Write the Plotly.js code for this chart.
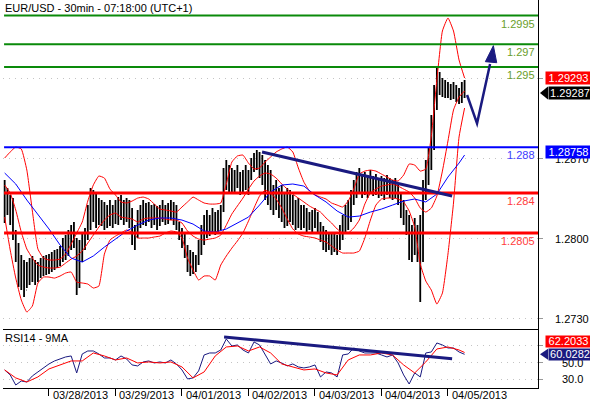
<!DOCTYPE html>
<html><head><meta charset="utf-8">
<script src="https://cdn.plot.ly/plotly-3.0.1.min.js"></script>
<style>html,body{margin:0;padding:0;background:#fff}#chart{width:590px;height:400px}</style>
</head><body><div id="chart"></div>
<script>
// hourly bar index (hours of trading time since 03/28/2013 00:00)
const barHours = []; for (let h = -16; h <= 150; h++) barHours.push(h);

const openP = [1.28163,1.28382,1.28268,1.28181,1.28032,1.27857,1.27639,1.27726,1.27551,1.27744,1.27639,1.27796,1.27656,1.27770,1.27726,1.27796,
1.27744,1.27831,1.27770,1.27849,1.27796,1.27884,1.27945,1.27901,1.28006,1.28058,1.27988,1.27595,1.27918,1.27988,1.28032,1.28251,
1.28382,1.28207,1.28338,1.28207,1.28294,1.28146,1.28251,1.28163,1.28233,1.28198,1.28294,1.28233,1.28294,1.28207,1.28163,1.28006,
1.28076,1.28207,1.28163,1.28268,1.28181,1.28251,1.28163,1.28233,1.28146,1.28233,1.28286,1.28181,1.28251,1.28216,1.28181,1.28119,
1.28032,1.27971,1.27884,1.27770,1.27831,1.27744,1.27814,1.27918,1.28058,1.28119,1.28181,1.28093,1.28207,1.28119,1.28207,1.28251,
1.28530,1.28469,1.28583,1.28469,1.28530,1.28495,1.28443,1.28530,1.28469,1.28556,1.28644,1.28688,1.28618,1.28705,1.28530,1.28408,
1.28513,1.28338,1.28382,1.28294,1.28355,1.28233,1.28294,1.28163,1.28321,1.28207,1.28268,1.28146,1.28233,1.28163,1.28207,1.28119,
1.28181,1.28146,1.28093,1.28032,1.27945,1.28006,1.27936,1.27988,1.27918,1.27971,1.28058,1.28163,1.28251,1.28207,1.28382,1.28443,
1.28530,1.28469,1.28513,1.28425,1.28495,1.28443,1.28513,1.28425,1.28469,1.28425,1.28478,1.28443,1.28408,1.28469,1.28408,1.28338,
1.28233,1.28163,1.28093,1.27901,1.28032,1.27945,1.27901,1.28076,1.28382,1.28600,1.28688,1.28993,1.29256,1.29387,1.29317,1.29343,
1.29282,1.29317,1.29256,1.29299,1.29238,1.29212,1.29299];
const highP = [1.28513,1.28443,1.28382,1.28355,1.28076,1.27962,1.27857,1.27814,1.27796,1.27831,1.27849,1.27814,1.27796,1.27831,1.27849,1.27857,
1.27866,1.27884,1.27901,1.27910,1.27936,1.28006,1.28032,1.28076,1.28119,1.28146,1.28006,1.27988,1.28058,1.28093,1.28294,1.28443,
1.28425,1.28408,1.28355,1.28338,1.28321,1.28294,1.28338,1.28294,1.28338,1.28364,1.28382,1.28338,1.28355,1.28338,1.28268,1.28119,
1.28251,1.28294,1.28338,1.28312,1.28321,1.28294,1.28303,1.28286,1.28294,1.28338,1.28294,1.28312,1.28338,1.28321,1.28294,1.28146,
1.28093,1.28058,1.27945,1.27901,1.27884,1.27857,1.27988,1.28119,1.28207,1.28251,1.28207,1.28268,1.28233,1.28251,1.28294,1.28618,
1.28688,1.28644,1.28618,1.28600,1.28644,1.28583,1.28600,1.28644,1.28600,1.28705,1.28749,1.28775,1.28758,1.28731,1.28688,1.28644,
1.28600,1.28469,1.28513,1.28443,1.28469,1.28408,1.28443,1.28425,1.28382,1.28338,1.28355,1.28294,1.28294,1.28268,1.28233,1.28251,
1.28268,1.28233,1.28146,1.28111,1.28076,1.28058,1.28041,1.28058,1.28032,1.28119,1.28207,1.28294,1.28338,1.28425,1.28513,1.28583,
1.28618,1.28556,1.28583,1.28556,1.28600,1.28548,1.28565,1.28530,1.28548,1.28530,1.28556,1.28530,1.28513,1.28530,1.28469,1.28408,
1.28338,1.28251,1.28207,1.28119,1.28181,1.28119,1.28207,1.28513,1.28688,1.28792,1.29081,1.29343,1.29492,1.29457,1.29404,1.29387,
1.29369,1.29352,1.29369,1.29343,1.29317,1.29369,1.29387];
const lowP = [1.28137,1.28207,1.28119,1.27988,1.27796,1.27578,1.27551,1.27490,1.27569,1.27595,1.27621,1.27595,1.27621,1.27656,1.27674,1.27682,
1.27691,1.27709,1.27726,1.27744,1.27761,1.27796,1.27814,1.27849,1.27901,1.27918,1.27508,1.27569,1.27796,1.27901,1.27988,1.28076,
1.28146,1.28093,1.28119,1.28111,1.28076,1.28093,1.28111,1.28093,1.28128,1.28119,1.28163,1.28119,1.28146,1.28093,1.27945,1.27901,
1.28006,1.28093,1.28119,1.28111,1.28146,1.28093,1.28119,1.28076,1.28111,1.28146,1.28119,1.28128,1.28163,1.28119,1.28076,1.27988,
1.27918,1.27831,1.27709,1.27674,1.27691,1.27709,1.27770,1.27857,1.27945,1.28006,1.28023,1.28058,1.28032,1.28058,1.28076,1.28233,
1.28425,1.28408,1.28399,1.28408,1.28443,1.28382,1.28408,1.28425,1.28382,1.28513,1.28583,1.28600,1.28530,1.28469,1.28338,1.28294,
1.28251,1.28207,1.28251,1.28181,1.28146,1.28093,1.28111,1.28146,1.28119,1.28076,1.28093,1.28076,1.28093,1.28058,1.28076,1.28058,
1.28093,1.28058,1.27971,1.27901,1.27884,1.27901,1.27857,1.27884,1.27857,1.27901,1.27988,1.28058,1.28076,1.28146,1.28294,1.28355,
1.28408,1.28355,1.28382,1.28355,1.28390,1.28373,1.28382,1.28355,1.28373,1.28338,1.28382,1.28355,1.28338,1.28355,1.28294,1.28181,
1.28119,1.28032,1.27814,1.27796,1.27857,1.27796,1.27447,1.27796,1.28338,1.28469,1.28600,1.28775,1.29125,1.29256,1.29238,1.29229,
1.29229,1.29212,1.29221,1.29195,1.29177,1.29186,1.29229];
const closeP = [1.28382,1.28268,1.28181,1.28032,1.27857,1.27639,1.27726,1.27551,1.27744,1.27639,1.27796,1.27656,1.27770,1.27726,1.27796,1.27744,
1.27831,1.27770,1.27849,1.27796,1.27884,1.27945,1.27901,1.28006,1.28058,1.27988,1.27595,1.27918,1.27988,1.28032,1.28251,1.28382,
1.28207,1.28338,1.28207,1.28294,1.28146,1.28251,1.28163,1.28233,1.28198,1.28294,1.28233,1.28294,1.28207,1.28163,1.28006,1.28076,
1.28207,1.28163,1.28268,1.28181,1.28251,1.28163,1.28233,1.28146,1.28233,1.28286,1.28181,1.28251,1.28216,1.28181,1.28119,1.28032,
1.27971,1.27884,1.27770,1.27831,1.27744,1.27814,1.27918,1.28058,1.28119,1.28181,1.28093,1.28207,1.28119,1.28207,1.28251,1.28530,
1.28469,1.28583,1.28469,1.28530,1.28495,1.28443,1.28530,1.28469,1.28556,1.28644,1.28688,1.28618,1.28705,1.28530,1.28408,1.28513,
1.28338,1.28382,1.28294,1.28355,1.28233,1.28294,1.28163,1.28321,1.28207,1.28268,1.28146,1.28233,1.28163,1.28207,1.28119,1.28181,
1.28146,1.28093,1.28032,1.27945,1.28006,1.27936,1.27988,1.27918,1.27971,1.28058,1.28163,1.28251,1.28207,1.28382,1.28443,1.28530,
1.28469,1.28513,1.28425,1.28495,1.28443,1.28513,1.28425,1.28469,1.28425,1.28478,1.28443,1.28408,1.28469,1.28408,1.28338,1.28233,
1.28163,1.28093,1.27901,1.28032,1.27945,1.27901,1.28076,1.28382,1.28600,1.28688,1.28993,1.29256,1.29387,1.29317,1.29343,1.29282,
1.29317,1.29256,1.29299,1.29238,1.29212,1.29299,1.29287];

// slow moving average (blue), every 4 hours
const maHours = []; for (let h = -16; h <= 148; h += 4) maHours.push(h); maHours.push(150);
const maBlue = [1.28574,1.28478,1.28338,1.28216,1.28085,1.27945,1.27831,1.27796,1.27849,1.27927,1.27997,1.28067,1.28119,1.28163,
1.28181,1.28181,1.28163,1.28128,1.28067,1.28058,1.28085,1.28137,1.28189,1.28294,1.28408,1.28469,1.28478,1.28460,1.28382,1.28321,
1.28242,1.28189,1.28198,1.28233,1.28259,1.28294,1.28329,1.28347,1.28321,1.28390,1.28539,1.28661,1.28731];

// Bollinger bands (red), every 2 hours
const bandHours = []; for (let h = -16; h <= 150; h += 2) bandHours.push(h);
const bbUpper = [1.28705,1.28758,1.28801,1.28784,1.28600,1.28242,1.27910,1.27831,1.27814,1.27814,1.27822,1.27866,1.27953,1.28050,
1.28146,1.28329,1.28469,1.28548,1.28530,1.28434,1.28382,1.28321,1.28312,1.28329,1.28355,1.28364,1.28347,1.28303,1.28259,1.28251,
1.28242,1.28233,1.28277,1.28321,1.28364,1.28338,1.28312,1.28303,1.28303,1.28312,1.28478,1.28670,1.28723,1.28731,1.28661,1.28609,
1.28618,1.28670,1.28714,1.28758,1.28784,1.28801,1.28758,1.28618,1.28495,1.28417,1.28382,1.28364,1.28347,1.28312,1.28294,1.28277,
1.28329,1.28434,1.28565,1.28591,1.28600,1.28591,1.28565,1.28539,1.28513,1.28504,1.28556,1.28653,1.28644,1.28591,1.28609,1.28897,
1.29387,1.29815,1.29929,1.29815,1.29562,1.29404];
const bbMiddle = [1.28469,1.28399,1.28251,1.28058,1.27910,1.27831,1.27770,1.27752,1.27744,1.27744,1.27752,1.27787,1.27822,1.27849,
1.27892,1.27962,1.28032,1.28102,1.28163,1.28207,1.28224,1.28189,1.28181,1.28172,1.28146,1.28172,1.28181,1.28181,1.28181,1.28172,
1.28163,1.28163,1.28137,1.28067,1.28023,1.27997,1.27988,1.27997,1.28006,1.28032,1.28119,1.28216,1.28286,1.28355,1.28434,1.28504,
1.28548,1.28574,1.28565,1.28530,1.28478,1.28434,1.28390,1.28355,1.28321,1.28286,1.28259,1.28233,1.28181,1.28137,1.28085,1.28050,
1.28050,1.28093,1.28163,1.28303,1.28399,1.28434,1.28460,1.28469,1.28478,1.28460,1.28434,1.28408,1.28355,1.28268,1.28233,1.28268,
1.28373,1.28591,1.28854,1.29125,1.29238,1.29291];
const bbLower = [1.28189,1.27901,1.27656,1.27464,1.27359,1.27412,1.27613,1.27665,1.27665,1.27656,1.27674,1.27700,1.27709,1.27621,
1.27613,1.27604,1.27569,1.27586,1.27866,1.27988,1.28023,1.28050,1.28076,1.28058,1.28006,1.28006,1.28006,1.28015,1.28023,1.28050,
1.28067,1.28058,1.28006,1.27831,1.27726,1.27639,1.27674,1.27674,1.27639,1.27770,1.27849,1.27918,1.27980,1.28050,1.28154,1.28268,
1.28373,1.28425,1.28399,1.28347,1.28268,1.28172,1.28085,1.28041,1.28023,1.28015,1.28006,1.27988,1.27971,1.27936,1.27901,1.27875,
1.27875,1.27875,1.27892,1.28006,1.28163,1.28294,1.28347,1.28355,1.28355,1.28347,1.28321,1.28242,1.28102,1.27779,1.27630,1.27551,
1.27429,1.27525,1.27866,1.28312,1.28889,1.29142];

// RSI(14), every 2 hours, and its 9MA every 4 hours
const rsiHours = bandHours;
const rsi14 = [41.2,35.2,23.1,27.9,26.7,34.0,38.8,43.6,48.4,52.0,54.4,56.8,58.0,37.6,60.4,64.0,64.0,60.4,55.6,55.6,53.2,58.0,54.4,47.2,
46.0,50.8,52.0,49.6,50.8,49.6,53.2,48.4,41.2,30.4,31.6,40.0,59.2,61.6,61.6,65.2,78.4,70.0,71.2,65.2,61.6,74.8,71.2,59.2,48.4,52.0,
49.6,46.0,48.4,44.8,43.6,44.8,47.2,32.8,38.8,37.6,32.8,59.2,60.4,67.6,64.0,61.6,61.6,61.6,59.2,56.8,59.2,49.6,35.2,24.3,37.6,32.8,
61.6,62.8,73.6,71.2,67.6,67.6,62.8,60.0];
const rsiMaHours = maHours;
const rsiMa9 = [41.2,31.6,26.7,32.8,42.4,47.2,52.0,52.0,61.6,58.0,53.2,55.6,49.6,50.8,49.6,50.8,44.8,31.6,38.8,58.0,68.8,70.0,64.0,
68.8,61.6,48.4,44.8,41.2,42.4,37.6,35.2,53.2,59.2,59.2,61.6,59.2,47.2,37.6,50.8,66.4,68.8,65.2,62.2];

// horizontal levels
const levels = [1.2995, 1.297, 1.295, 1.288, 1.284, 1.2805];
const levelText = ['1.2995', '1.297', '1.295', '1.288', '1.284', '1.2805'];
const levelColors = ['#0a8a0a', '#0a8a0a', '#0a8a0a', '#0000ff', '#ff0000', '#ff0000'];
const levelTextColors = ['#6a9e2a', '#6a9e2a', '#6a9e2a', '#3c3cff', '#ff3c3c', '#ff3c3c'];
const levelWidths = [2, 2, 2, 2, 3, 3];

// drawn lines
const trendHours = [76.9, 145.5], trendPrices = [1.28758, 1.28373];
const rsiTrendHours = [63.2, 145.5], rsiTrendVals = [80.8, 54.6];
const forecastHours = [150.9, 154.5, 159.2], forecastPrices = [1.29256, 1.29008, 1.29527];
const arrowHeadHours = [157.5, 160.4, 161.6], arrowHeadPrices = [1.29547, 1.29687, 1.29538];

// axes
const priceTicks = [1.2730, 1.2800, 1.2870, 1.2940];
const priceTickText = ['1.2730', '1.2800', '1.2870', ''];
const rsiTicks = [30, 50, 70];
const rsiTickText = ['30.0', '50.0', ''];
const dayTicks = [0, 24, 48, 72, 96, 120, 144];
const dayLabels = ['03/28/2013', '03/29/2013', '04/01/2013', '04/02/2013', '04/03/2013', '04/04/2013', '04/05/2013'];

const lastAsk = 1.29293, lastBid = 1.29287, markerLevel = 1.28758;
const lastRsiMa = 62.2033, lastRsi = 60.0282;

const NAVY = '#1a1a80';
const FONT = 'Arial, "Liberation Sans", sans-serif';
const bandLine = {color: '#ff0000', width: 1, shape: 'spline', smoothing: 0.4};

const traces = [
  {type: 'ohlc', x: barHours, open: openP, high: highP, low: lowP, close: closeP, xaxis: 'x', yaxis: 'y',
   increasing: {line: {color: '#000', width: 1.8}}, decreasing: {line: {color: '#000', width: 1.8}},
   tickwidth: 0.14, hoverinfo: 'skip'},
  {type: 'scatter', mode: 'lines', x: bandHours, y: bbUpper, line: bandLine, xaxis: 'x', yaxis: 'y', hoverinfo: 'skip'},
  {type: 'scatter', mode: 'lines', x: bandHours, y: bbMiddle, line: bandLine, xaxis: 'x', yaxis: 'y', hoverinfo: 'skip'},
  {type: 'scatter', mode: 'lines', x: bandHours, y: bbLower, line: bandLine, xaxis: 'x', yaxis: 'y', hoverinfo: 'skip'},
  {type: 'scatter', mode: 'lines', x: maHours, y: maBlue, line: {color: '#0000ff', width: 1}, xaxis: 'x', yaxis: 'y', hoverinfo: 'skip'},
  {type: 'scatter', mode: 'lines', x: rsiHours, y: rsi14, line: {color: NAVY, width: 1}, xaxis: 'x2', yaxis: 'y2', hoverinfo: 'skip'},
  {type: 'scatter', mode: 'lines', x: rsiMaHours, y: rsiMa9, line: {color: '#ff0000', width: 1}, xaxis: 'x2', yaxis: 'y2', hoverinfo: 'skip'}
];

const shapes = [];
levels.forEach((v, i) => shapes.push({type: 'line', xref: 'x domain', yref: 'y', x0: 0.002, x1: 1, y0: v, y1: v,
  line: {color: levelColors[i], width: levelWidths[i]}, layer: 'above'}));
shapes.push({type: 'line', xref: 'x', yref: 'y', x0: trendHours[0], x1: trendHours[1], y0: trendPrices[0], y1: trendPrices[1],
  line: {color: NAVY, width: 3}, layer: 'above'});
shapes.push({type: 'line', xref: 'x2', yref: 'y2', x0: rsiTrendHours[0], x1: rsiTrendHours[1], y0: rsiTrendVals[0], y1: rsiTrendVals[1],
  line: {color: NAVY, width: 3}, layer: 'above'});
shapes.push({type: 'path', xref: 'x', yref: 'y', layer: 'above', line: {color: NAVY, width: 2.5},
  path: 'M' + forecastHours.map((h, i) => h + ',' + forecastPrices[i]).join('L')});
shapes.push({type: 'path', xref: 'x', yref: 'y', layer: 'above', line: {color: NAVY, width: 1}, fillcolor: NAVY,
  path: 'M' + arrowHeadHours.map((h, i) => h + ',' + arrowHeadPrices[i]).join('L') + 'Z'});
shapes.push({type: 'path', xref: 'paper', yref: 'y', xsizemode: 'pixel', ysizemode: 'pixel', xanchor: 1, yanchor: lastBid,
  path: 'M2,-1.5L10,5L10,-8Z', fillcolor: '#000', line: {width: 0}, layer: 'above'});
shapes.push({type: 'path', xref: 'paper', yref: 'y2', xsizemode: 'pixel', ysizemode: 'pixel', xanchor: 1, yanchor: lastRsi,
  path: 'M2,0L10,5.5L10,-5.5Z', fillcolor: NAVY, line: {width: 0}, layer: 'above'});

const ann = [];
ann.push({xref: 'paper', yref: 'paper', x: 0, y: 1, xanchor: 'left', yanchor: 'top', showarrow: false,
  text: 'EUR/USD - 30min - 07:18:00 (UTC+1)', font: {family: FONT, size: 11, color: '#000'}});
ann.push({xref: 'paper', yref: 'paper', x: 0, y: 0.15206, xanchor: 'left', yanchor: 'top', showarrow: false,
  text: 'RSI14 - 9MA', font: {family: FONT, size: 11, color: '#000'}, yshift: -1});
priceTicks.forEach((v, i) => { if (priceTickText[i]) ann.push({xref: 'paper', yref: 'y', x: 1, y: v, xshift: 34, xanchor: 'center',
  yanchor: 'middle', showarrow: false, text: priceTickText[i], font: {family: FONT, size: 11, color: '#000'}}); });
rsiTicks.forEach((v, i) => { if (rsiTickText[i]) ann.push({xref: 'paper', yref: 'y2', x: 1, y: v, xshift: 34, xanchor: 'center',
  yanchor: 'middle', showarrow: false, text: rsiTickText[i], font: {family: FONT, size: 11, color: '#000'}}); });
levels.forEach((v, i) => ann.push({xref: 'paper', yref: 'y', x: 1, y: v, xshift: -1, yshift: -8, xanchor: 'right', yanchor: 'middle',
  showarrow: false, text: levelText[i], font: {family: FONT, size: 11, color: levelTextColors[i]}}));
dayTicks.forEach((h, i) => ann.push({xref: 'x2', yref: 'paper', x: h, y: 0, xshift: 2, yshift: -7, xanchor: 'left', yanchor: 'middle',
  showarrow: false, text: dayLabels[i], font: {family: FONT, size: 11, color: '#000'}}));
function box(yref, v, txt, bg, xs, w, ys, hgt) {
  return {xref: 'paper', yref: yref, x: 1, y: v, xshift: xs, yshift: ys, xanchor: 'left', yanchor: 'middle', showarrow: false,
    text: txt, width: w, height: hgt, bgcolor: bg, borderpad: 0, font: {family: FONT, size: 11, color: '#fff'}, align: 'center'};
}
ann.push(box('y', markerLevel, markerLevel.toFixed(5), '#0000ff', 7, 45, 0, 12));
ann.push(box('y', lastAsk, lastAsk.toFixed(5), '#ff0000', 7, 45, 12.5, 12));
ann.push(box('y', lastBid, lastBid.toFixed(5), '#000000', 10, 42, -1.5, 12));
ann.push(box('y2', lastRsiMa, lastRsiMa.toFixed(4), '#ff0000', 7, 45, 10.5, 10.5));
ann.push(box('y2', lastRsi, lastRsi.toFixed(4), NAVY, 10, 42, 0, 10.5));

const layout = {
  width: 590, height: 400, margin: {l: 3, r: 52, t: 0, b: 12}, paper_bgcolor: '#fff', plot_bgcolor: '#fff', showlegend: false,
  font: {family: FONT, size: 11, color: '#000'},
  xaxis: {anchor: 'y', range: [-16.6, 176.5], showticklabels: false, ticks: '', showgrid: false, zeroline: false,
    showline: true, linecolor: '#000', linewidth: 1, rangeslider: {visible: false}, fixedrange: true},
  xaxis2: {anchor: 'y2', range: [-16.6, 176.5], tickvals: dayTicks, ticks: 'outside', ticklen: 7, tickcolor: '#000', tickwidth: 1,
    showticklabels: false, showgrid: false, zeroline: false, showline: true, linecolor: '#000', linewidth: 1},
  yaxis: {domain: [0.15206, 1], range: [1.27211, 1.30086], side: 'right', anchor: 'x', tickvals: priceTicks, ticks: 'outside',
    ticklen: 4, tickcolor: '#999', showticklabels: false, showgrid: true, gridcolor: '#c4c4c4', griddash: '1px,5px',
    zeroline: false, showline: true, linecolor: '#000', linewidth: 1},
  yaxis2: {domain: [0, 0.15206], range: [19.5, 90.4], side: 'right', anchor: 'x2', tickvals: rsiTicks, ticks: 'outside',
    ticklen: 4, tickcolor: '#999', showticklabels: false, showgrid: true, gridcolor: '#c4c4c4', griddash: '1px,5px',
    zeroline: false, showline: true, linecolor: '#000', linewidth: 1},
  shapes: shapes, annotations: ann
};
Plotly.newPlot('chart', traces, layout, {staticPlot: true, displayModeBar: false});
</script></body></html>
